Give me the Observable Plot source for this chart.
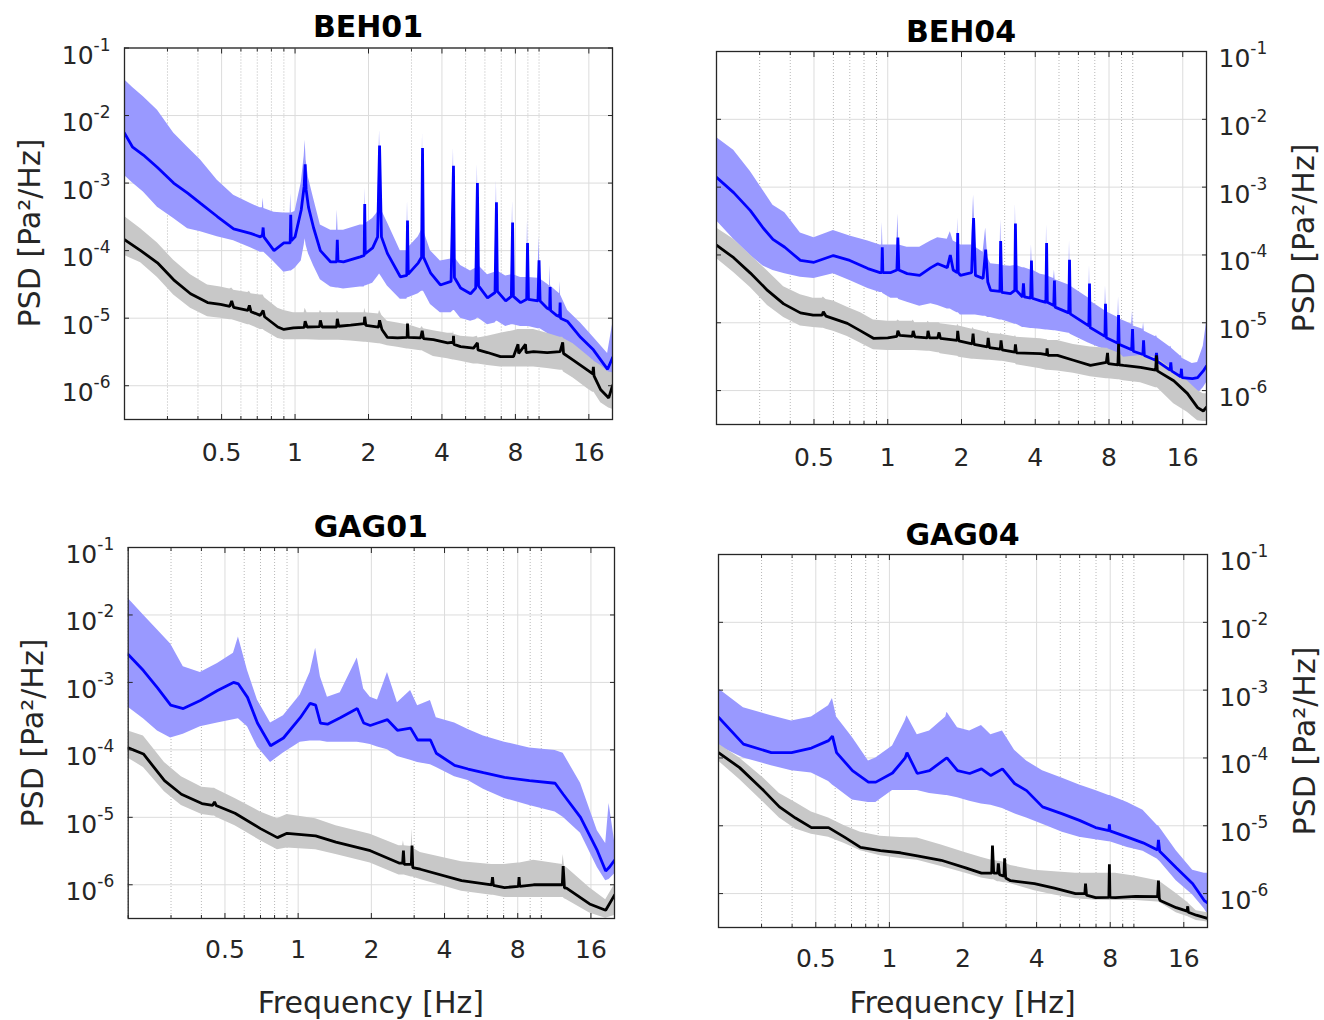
<!DOCTYPE html>
<html><head><meta charset="utf-8">
<script src="https://cdn.jsdelivr.net/npm/d3@7"></script>
<script src="https://cdn.jsdelivr.net/npm/@observablehq/plot@0.6"></script>
<style>
html,body{margin:0;padding:0;background:#fff;}
#root{position:relative;width:1324px;height:1020px;overflow:hidden;background:#fff;}
#root > svg.plot{position:absolute;}
#overlay{position:absolute;left:0;top:0;pointer-events:none;}
</style></head>
<body><div id="root"></div>
<script>
// ---- Data: each row is [frequency Hz, lower band, median, upper band] in Pa²/Hz ----
const beh01Blue = [
[0.2,1.3e-3,5.5e-3,3.4e-2],[0.216,1.0e-3,3.4e-3,2.6e-2],[0.239,7.4e-4,2.6e-3,1.9e-2],[0.273,4.4e-4,1.7e-3,1.2e-2],
[0.318,3.0e-4,1.0e-3,5.5e-3],[0.363,2.1e-4,7.1e-4,3.4e-3],[0.41,1.9e-4,5.0e-4,2.2e-3],[0.48,1.6e-4,3.2e-4,1.1e-3],
[0.56,1.4e-4,2.1e-4,6.6e-4],[0.657,1.1e-4,1.8e-4,5.0e-4],[0.72,9.5e-5,1.6e-4,4.3e-4],[0.735,9.5e-5,1.7e-4,4.3e-4],
[0.74,9.5e-5,2.2e-4,6e-4],[0.745,9.5e-5,1.6e-4,4.2e-4],[0.82,6.8e-5,1.0e-4,3.7e-4],[0.9,4.8e-5,1.3e-4,3.6e-4],
[0.955,5e-5,1.3e-4,3.6e-4],[0.96,5e-5,3.4e-4,7e-4],[0.965,5e-5,1.4e-4,3.6e-4],[1.0,5.5e-5,1.6e-4,3.8e-4],
[1.06,7e-5,4.0e-4,1e-3],[1.09,1.2e-4,9e-4,2.5e-3],[1.1,1.5e-4,1.9e-3,4.3e-3],[1.11,1.2e-4,8e-4,2.2e-3],
[1.135,9e-5,4.4e-4,1.2e-3],[1.19,6e-5,2.2e-4,6e-4],[1.27,3.7e-5,1.0e-4,2.4e-4],[1.4,2.9e-5,6.8e-5,2.0e-4],
[1.48,2.8e-5,6.8e-5,2e-4],[1.49,2.8e-5,1.45e-4,4e-4],[1.5,2.8e-5,7e-5,2e-4],[1.58,2.7e-5,6.8e-5,2.0e-4],
[1.85,2.9e-5,8.1e-5,2.4e-4],[1.92,2.9e-5,8.5e-5,2.4e-4],[1.93,3e-5,4.9e-4,8.5e-4],[1.94,3e-5,9e-5,2.5e-4],
[2.08,3.3e-5,1.1e-4,3.0e-4],[2.18,4.1e-5,1.6e-4,3.7e-4],[2.22,4.5e-5,3.6e-3,6e-3],[2.26,4.1e-5,1.6e-4,4e-4],
[2.39,3.0e-5,9.1e-5,2.6e-4],[2.7,1.9e-5,4.1e-5,1.0e-4],[2.87,1.9e-5,4.3e-5,1.0e-4],[2.89,2e-5,2.8e-4,5.5e-4],
[2.91,2e-5,4.5e-5,1.1e-4],[3.2,2.3e-5,6.6e-5,1.6e-4],[3.3,2.5e-5,8e-5,2e-4],[3.33,2.5e-5,3.3e-3,5.6e-3],
[3.36,2.5e-5,8e-5,2e-4],[3.59,1.6e-5,4.7e-5,1.0e-4],[3.94,1.2e-5,3.1e-5,7.0e-5],[4.36,1.2e-5,3.5e-5,7.5e-5],
[4.46,1.3e-5,1.8e-3,3.3e-3],[4.5,1.3e-5,4e-5,8e-5],[4.77,1.0e-5,2.8e-5,6.0e-5],[5.24,9e-6,2.3e-5,5.0e-5],
[5.5,9.5e-6,2.8e-5,5.5e-5],[5.59,1e-5,1.0e-3,1.9e-3],[5.65,1e-5,3e-5,6e-5],[6.15,8e-6,2.0e-5,4.4e-5],
[6.6,8.5e-6,2.4e-5,4.8e-5],[6.69,9e-6,5.2e-4,1.1e-3],[6.75,9e-6,2.5e-5,5e-5],[7.3,7.5e-6,1.8e-5,4.2e-5],
[7.7,8e-6,2.1e-5,4.4e-5],[7.79,8e-6,2.6e-4,5.5e-4],[7.85,8e-6,2.1e-5,4.4e-5],[8.4,7.5e-6,1.7e-5,4.0e-5],
[8.9,7.5e-6,1.9e-5,4.0e-5],[8.97,7.5e-6,1.3e-4,3e-4],[9.05,7.5e-6,1.9e-5,4e-5],[9.9,7e-6,1.8e-5,3.9e-5],
[10.0,7e-6,7.2e-5,1.6e-4],[10.1,7e-6,1.8e-5,3.8e-5],[10.8,6e-6,1.4e-5,3.2e-5],[11.05,5.5e-6,1.35e-5,3.0e-5],
[11.1,5.5e-6,2.9e-5,6e-5],[11.15,5.5e-6,1.3e-5,3e-5],[11.8,4.8e-6,1.1e-5,2.5e-5],[12.15,4.5e-6,1.05e-5,2.3e-5],
[12.2,4.5e-6,1.7e-5,3.5e-5],[12.25,4.5e-6,1.0e-5,2.2e-5],[13.1,4.5e-6,8.9e-6,1.3e-5],[14.8,3.1e-6,5.2e-6,8.5e-6],
[16.7,2.0e-6,3.4e-6,5.2e-6],[19.1,1.3e-6,1.75e-6,3.0e-6],[20,1.5e-6,2.6e-6,8e-6]
];
const beh01Black = [
[0.2,8.5e-5,1.45e-4,3.2e-4],[0.233,6.6e-5,1.0e-4,2.1e-4],[0.273,4.0e-5,6.6e-5,1.3e-4],[0.318,2.2e-5,3.7e-5,7.2e-5],
[0.373,1.4e-5,2.3e-5,4.4e-5],[0.438,1.05e-5,1.7e-5,3.1e-5],[0.495,1.0e-5,1.6e-5,2.9e-5],[0.54,9.5e-6,1.5e-5,2.7e-5],
[0.55,9.5e-6,1.8e-5,2.8e-5],[0.56,9.3e-6,1.45e-5,2.6e-5],[0.64,8e-6,1.3e-5,2.4e-5],[0.65,8e-6,1.55e-5,2.5e-5],
[0.66,7.8e-6,1.25e-5,2.3e-5],[0.72,6.8e-6,1.1e-5,2.2e-5],[0.74,6.8e-6,1.3e-5,2.2e-5],[0.75,6.5e-6,1.05e-5,2e-5],
[0.85,5e-6,7.4e-6,1.4e-5],[0.9,4.8e-6,6.8e-6,1.3e-5],[0.985,4.8e-6,7.2e-6,1.2e-5],[1.09,4.8e-6,7.3e-6,1.2e-5],
[1.1,4.8e-6,9e-6,1.4e-5],[1.12,4.8e-6,7.4e-6,1.2e-5],[1.26,4.7e-6,7.5e-6,1.2e-5],[1.27,4.7e-6,9.3e-6,1.3e-5],
[1.29,4.7e-6,7.4e-6,1.2e-5],[1.48,4.7e-6,7.4e-6,1.2e-5],[1.49,4.7e-6,9.8e-6,1.3e-5],[1.51,4.7e-6,7.6e-6,1.2e-5],
[1.69,4.6e-6,7.9e-6,1.2e-5],[1.92,4.4e-6,8.3e-6,1.2e-5],[1.93,4.4e-6,1.05e-5,1.4e-5],[1.95,4.4e-6,7.8e-6,1.2e-5],
[2.2,4.2e-6,7.4e-6,1.15e-5],[2.22,4.2e-6,9.3e-6,1.3e-5],[2.27,4.1e-6,6.8e-6,1.1e-5],[2.39,3.9e-6,5.2e-6,9e-6],
[2.63,3.7e-6,5.1e-6,8.5e-6],[2.88,3.5e-6,5.2e-6,8e-6],[2.89,3.5e-6,8.3e-6,9e-6],[2.91,3.5e-6,5.2e-6,8e-6],
[3.27,3.3e-6,5.1e-6,7e-6],[3.32,3.3e-6,6.5e-6,7.5e-6],[3.36,3.2e-6,5.0e-6,7e-6],[3.69,2.7e-6,4.8e-6,6.5e-6],
[4.22,2.5e-6,4.3e-6,6e-6],[4.45,2.4e-6,4.4e-6,6e-6],[4.46,2.4e-6,5.5e-6,6.5e-6],[4.48,2.4e-6,4.1e-6,5.8e-6],
[4.77,2.3e-6,3.8e-6,5.4e-6],[5.39,2.1e-6,3.6e-6,5.2e-6],[5.59,2.1e-6,4.3e-6,5.4e-6],[5.62,2.1e-6,3.4e-6,5.1e-6],
[6.15,2.0e-6,3.1e-6,5.4e-6],[6.95,1.9e-6,2.7e-6,6e-6],[7.86,1.9e-6,2.7e-6,6.5e-6],[8.2,1.9e-6,4.1e-6,6.8e-6],
[8.25,1.9e-6,3.0e-6,6.8e-6],[8.8,1.9e-6,4.1e-6,6.8e-6],[8.85,1.9e-6,3.1e-6,6.8e-6],[9.49,1.9e-6,3.2e-6,6.8e-6],
[10.8,1.8e-6,3.1e-6,6e-6],[12.2,1.7e-6,3.2e-6,5.2e-6],[12.5,1.7e-6,4.4e-6,5.2e-6],[12.6,1.6e-6,3.0e-6,5e-6],
[13.8,1.3e-6,2.4e-6,4.2e-6],[15.8,9e-7,1.7e-6,2.8e-6],[16.6,8e-7,1.5e-6,2.4e-6],[16.7,8e-7,1.9e-6,2.4e-6],
[16.8,8e-7,1.4e-6,2.3e-6],[17.9,5.6e-7,8.7e-7,2.0e-6],[19.3,4.7e-7,6.6e-7,1.6e-6],[20,4.5e-7,1.0e-6,1.55e-6]
];
const beh04Blue = [
[0.2,3.2e-4,1.4e-3,5.4e-3],[0.235,1.7e-4,8.3e-4,3.5e-3],[0.275,9.8e-5,4.5e-4,1.7e-3],[0.31,6.9e-5,2.5e-4,8.9e-4],
[0.34,5.9e-5,1.7e-4,5.4e-4],[0.38,5.3e-5,1.3e-4,4.2e-4],[0.44,4.7e-5,8.3e-5,2.1e-4],[0.5,4.5e-5,7.8e-5,1.8e-4],
[0.6,5.3e-5,9.8e-5,2.3e-4],[0.7,4.2e-5,8.3e-5,1.9e-4],[0.83,3.2e-5,6.3e-5,1.6e-4],[0.93,2.8e-5,5.5e-5,1.4e-4],
[0.945,2.8e-5,5.5e-5,1.4e-4],[0.95,2.8e-5,1.3e-4,3.0e-4],[0.955,2.7e-5,5.5e-5,1.4e-4],[1.03,2.3e-5,5.5e-5,1.4e-4],
[1.09,2.3e-5,6.0e-5,1.4e-4],[1.1,2.3e-5,1.8e-4,4.0e-4],[1.11,2.2e-5,6.0e-5,1.4e-4],[1.2,2.0e-5,5.3e-5,1.3e-4],
[1.35,1.75e-5,5.0e-5,1.3e-4],[1.5,1.9e-5,6.5e-5,1.6e-4],[1.6,1.8e-5,7.4e-5,1.8e-4],[1.75,1.6e-5,6.5e-5,1.7e-4],
[1.8,1.6e-5,1.0e-4,2.2e-4],[1.85,1.5e-5,6.0e-5,1.6e-4],[1.92,1.4e-5,5.5e-5,1.5e-4],[1.93,1.4e-5,2.1e-4,3.5e-4],
[1.94,1.4e-5,5.5e-5,1.5e-4],[1.98,1.3e-5,5.0e-5,1.4e-4],[2.2,1.3e-5,5.5e-5,1.4e-4],[2.24,1.3e-5,3.5e-4,7.6e-4],
[2.28,1.3e-5,5.0e-5,1.3e-4],[2.45,1.25e-5,4.5e-5,1.1e-4],[2.51,1.25e-5,1.2e-4,2.5e-4],[2.56,1.2e-5,4.0e-5,9e-5],
[2.63,1.2e-5,3.0e-5,7.4e-5],[2.87,1.1e-5,2.9e-5,7.2e-5],[2.89,1.1e-5,1.6e-4,3.3e-4],[2.92,1.1e-5,2.8e-5,7e-5],
[3.17,1.0e-5,2.7e-5,6.8e-5],[3.3,9.5e-6,3.0e-5,7e-5],[3.32,9.5e-6,2.9e-4,5.7e-4],[3.35,9.5e-6,3.0e-5,7e-5],
[3.55,8.5e-6,2.4e-5,6.5e-5],[3.58,8.5e-6,3.8e-5,6.5e-5],[3.61,8.5e-6,2.4e-5,6.5e-5],[3.83,8.2e-6,2.3e-5,6e-5],
[3.86,8.2e-6,8.3e-5,1.4e-4],[3.89,8.2e-6,2.3e-5,6e-5],[4.2,8e-6,2.1e-5,5.2e-5],[4.42,7.8e-6,2.0e-5,5e-5],
[4.45,7.8e-6,1.5e-4,2.8e-4],[4.48,7.8e-6,2.0e-5,4.9e-5],[4.76,7.6e-6,1.8e-5,4.5e-5],[4.79,7.6e-6,4.2e-5,6e-5],
[4.82,7.6e-6,1.7e-5,4.3e-5],[5.48,7e-6,1.4e-5,3.6e-5],[5.52,7e-6,8.5e-5,1.6e-4],[5.56,6.8e-6,1.35e-5,3.5e-5],
[6.62,5e-6,9e-6,2.3e-5],[6.66,5e-6,3.8e-5,7e-5],[6.7,4.9e-6,8.5e-6,2.1e-5],[7.7,4e-6,6.3e-6,1.5e-5],
[7.74,4e-6,1.9e-5,3.5e-5],[7.8,3.9e-6,6.0e-6,1.45e-5],[8.7,3.3e-6,5.0e-6,1.2e-5],[8.75,3.3e-6,1.3e-5,2.4e-5],
[8.8,3.2e-6,4.8e-6,1.15e-5],[9.9,2.8e-6,4.0e-6,9.5e-6],[9.98,2.8e-6,8.1e-6,1.5e-5],[10.05,2.7e-6,3.8e-6,9e-6],
[11.0,2.4e-6,3.4e-6,8e-6],[11.07,2.4e-6,5.5e-6,1e-5],[11.15,2.3e-6,3.3e-6,7.5e-6],[12.4,2.1e-6,2.8e-6,6.2e-6],
[12.5,2.1e-6,3.6e-6,6.5e-6],[12.6,2.0e-6,2.7e-6,6.0e-6],[14.2,1.4e-6,2.0e-6,4.4e-6],[14.3,1.4e-6,2.6e-6,4.5e-6],
[14.4,1.35e-6,1.95e-6,4.2e-6],[15.7,1.1e-6,1.6e-6,3.2e-6],[15.8,1.1e-6,2.1e-6,3.3e-6],[15.9,1.05e-6,1.55e-6,3.0e-6],
[17.5,9e-7,1.5e-6,2.5e-6],[18.4,9e-7,1.55e-6,2.6e-6],[19.4,1.1e-6,1.95e-6,4.5e-6],[20,1.3e-6,2.3e-6,1.0e-5]
];
const beh04Black = [
[0.2,8.9e-5,1.4e-4,2.5e-4],[0.235,5.5e-5,9.1e-5,1.7e-4],[0.275,3.3e-5,5.4e-5,1.0e-4],[0.323,1.8e-5,3.0e-5,5.8e-5],
[0.376,1.2e-5,1.9e-5,3.4e-5],[0.44,9e-6,1.4e-5,2.6e-5],[0.496,8.5e-6,1.3e-5,2.3e-5],[0.54,8.3e-6,1.3e-5,2.3e-5],
[0.546,8.3e-6,1.45e-5,2.4e-5],[0.56,8e-6,1.25e-5,2.2e-5],[0.6,7.5e-6,1.15e-5,2.1e-5],[0.684,6.3e-6,9.8e-6,1.7e-5],
[0.775,5.0e-6,7.6e-6,1.4e-5],[0.874,4.0e-6,5.9e-6,1.1e-5],[1.0,3.9e-6,6.0e-6,1.05e-5],[1.09,3.9e-6,6.3e-6,1.05e-5],
[1.1,3.9e-6,7.6e-6,1.1e-5],[1.12,3.9e-6,6.5e-6,1.05e-5],[1.26,3.9e-6,6.3e-6,1.05e-5],[1.27,3.9e-6,7.6e-6,1.1e-5],
[1.29,3.9e-6,6.2e-6,1.0e-5],[1.45,3.8e-6,6.0e-6,1.0e-5],[1.46,3.8e-6,7.6e-6,1.05e-5],[1.48,3.8e-6,6.0e-6,1.0e-5],
[1.6,3.6e-6,6.0e-6,1.0e-5],[1.62,3.6e-6,7.2e-6,1.0e-5],[1.64,3.5e-6,5.9e-6,9.7e-6],[1.92,3.2e-6,5.5e-6,9e-6],
[1.93,3.2e-6,7.6e-6,9.5e-6],[1.95,3.1e-6,5.4e-6,9e-6],[2.21,2.9e-6,4.9e-6,8e-6],[2.23,2.9e-6,6.9e-6,8.5e-6],
[2.25,2.9e-6,4.8e-6,8e-6],[2.55,2.8e-6,4.4e-6,7.2e-6],[2.57,2.8e-6,6.0e-6,7.5e-6],[2.6,2.8e-6,4.3e-6,7e-6],
[2.88,2.7e-6,4.1e-6,6.8e-6],[2.9,2.7e-6,5.5e-6,7e-6],[2.93,2.7e-6,4.0e-6,6.7e-6],[3.3,2.5e-6,3.7e-6,6.2e-6],
[3.32,2.5e-6,4.8e-6,6.5e-6],[3.35,2.4e-6,3.6e-6,6.1e-6],[4.2,2.1e-6,3.5e-6,5.8e-6],[4.45,2.0e-6,3.4e-6,5.6e-6],
[4.47,2.0e-6,4.2e-6,5.6e-6],[4.5,2.0e-6,3.3e-6,5.5e-6],[4.93,1.95e-6,3.3e-6,5.5e-6],[5.73,1.8e-6,2.8e-6,4.8e-6],
[6.72,1.6e-6,2.35e-6,4.4e-6],[7.8,1.5e-6,2.6e-6,4.2e-6],[7.89,1.5e-6,3.6e-6,4.2e-6],[7.95,1.5e-6,2.5e-6,4.1e-6],
[8.7,1.45e-6,2.4e-6,3.6e-6],[8.75,1.45e-6,4.9e-6,5.5e-6],[8.8,1.45e-6,2.4e-6,3.6e-6],[9.17,1.4e-6,2.35e-6,3.1e-6],
[10.76,1.3e-6,2.2e-6,3.3e-6],[12.4,1.1e-6,2.0e-6,3.1e-6],[12.5,1.1e-6,3.3e-6,3.6e-6],[12.6,1.1e-6,1.95e-6,3.0e-6],
[14.7,6.4e-7,1.4e-6,2.0e-6],[16.7,4.8e-7,9.1e-7,1.4e-6],[18.4,3.6e-7,5.6e-7,1.0e-6],[19.4,3.5e-7,5.0e-7,9e-7],
[20,3.5e-7,5.7e-7,9e-7]
];
const gag01Blue = [
[0.2,4.3e-4,2.6e-3,1.75e-2],[0.231,2.9e-4,1.5e-3,1.0e-2],[0.264,1.9e-4,8.3e-4,6.0e-3],[0.299,1.5e-4,4.6e-4,3.7e-3],
[0.337,1.7e-4,4.1e-4,1.7e-3],[0.396,2.2e-4,5.4e-4,1.4e-3],[0.466,2.5e-4,7.6e-4,1.9e-3],[0.542,2.8e-4,1.0e-3,2.7e-3],
[0.568,2.9e-4,9.5e-4,4.7e-3],[0.619,2.2e-4,6.0e-4,1.5e-3],[0.68,1.1e-4,2.5e-4,5.5e-4],[0.77,6.5e-5,1.15e-4,2.5e-4],
[0.87,9e-5,1.5e-4,3.2e-4],[1.02,1.3e-4,3.0e-4,6.5e-4],[1.12,1.35e-4,4.9e-4,1.4e-3],[1.18,1.35e-4,4.6e-4,3.2e-3],
[1.235,1.35e-4,2.5e-4,1.2e-3],[1.32,1.3e-4,2.4e-4,6e-4],[1.49,1.3e-4,3.0e-4,7e-4],[1.75,1.3e-4,4.1e-4,2.3e-3],
[1.86,1.25e-4,2.5e-4,8e-4],[1.98,1.2e-4,2.3e-4,6e-4],[2.12,1.1e-4,2.5e-4,5.5e-4],[2.33,1.0e-4,2.8e-4,1.4e-3],
[2.56,8e-5,1.95e-4,5e-4],[2.9,7e-5,2.1e-4,7.6e-4],[3.1,6.5e-5,1.4e-4,4.5e-4],[3.5,6e-5,1.4e-4,5.4e-4],
[3.7,5.5e-5,8.9e-5,3e-4],[4.4,4.0e-5,5.9e-5,2.5e-4],[5.0,3.5e-5,5.2e-5,2.0e-4],[5.78,2.6e-5,4.6e-5,1.6e-4],
[7.06,1.9e-5,3.9e-5,1.3e-4],[8.94,1.5e-5,3.5e-5,1.07e-4],[11.4,1.2e-5,3.2e-5,9.8e-5],[12.3,1.0e-5,2.2e-5,8.9e-5],
[14.5,5.8e-6,1.0e-5,3.2e-5],[17.0,1.8e-6,3.2e-6,6.3e-6],[18.4,1.15e-6,1.6e-6,4.1e-6],[19.0,1.2e-6,1.8e-6,1.6e-5],
[20,1.45e-6,2.3e-6,4.5e-6]
];
const gag01Black = [
[0.2,7.5e-5,1.07e-4,1.9e-4],[0.231,5.5e-5,8.7e-5,1.6e-4],[0.282,2.4e-5,3.5e-5,6.5e-5],[0.331,1.5e-5,2.2e-5,4.0e-5],
[0.402,1.1e-5,1.6e-5,2.8e-5],[0.445,1.05e-5,1.5e-5,2.7e-5],[0.453,1.05e-5,1.7e-5,2.7e-5],[0.46,1.0e-5,1.5e-5,2.6e-5],
[0.55,7.5e-6,1.15e-5,1.9e-5],[0.7,4.5e-6,6.8e-6,1.2e-5],[0.822,3.3e-6,5.0e-6,9.5e-6],[0.9,3.5e-6,5.8e-6,1.1e-5],
[1.18,3.3e-6,5.3e-6,9.5e-6],[1.43,2.8e-6,4.3e-6,7.5e-6],[1.98,2.1e-6,3.2e-6,5.6e-6],[2.6,1.4e-6,2.1e-6,3.8e-6],
[2.69,1.4e-6,2.1e-6,3.8e-6],[2.71,1.4e-6,3.2e-6,4.5e-6],[2.73,1.4e-6,2.0e-6,3.8e-6],[2.92,1.3e-6,2.0e-6,3.7e-6],
[2.94,1.3e-6,3.8e-6,6.8e-6],[2.96,1.3e-6,1.8e-6,3.5e-6],[3.18,1.2e-6,1.7e-6,3.0e-6],[4.7,8e-7,1.15e-6,2.2e-6],
[6.25,7e-7,1.0e-6,2.0e-6],[6.3,7e-7,1.3e-6,2.0e-6],[6.35,7e-7,9.8e-7,2.0e-6],[7.06,6.5e-7,9.1e-7,2.0e-6],
[8.05,6.5e-7,9.5e-7,2.1e-6],[8.1,6.5e-7,1.3e-6,2.1e-6],[8.15,6.5e-7,9.5e-7,2.1e-6],[9.3,6.5e-7,1.0e-6,2.3e-6],
[12.2,6.5e-7,1.0e-6,2.0e-6],[12.3,6.5e-7,1.9e-6,2.8e-6],[12.45,6.2e-7,9e-7,1.9e-6],[12.7,6e-7,8.9e-7,1.8e-6],
[15.8,3.8e-7,5.2e-7,9e-7],[18.4,3.2e-7,4.2e-7,6e-7],[20,3.5e-7,7e-7,1e-6]
];
const gag04Blue = [
[0.2,1.5e-4,4.0e-4,1.05e-3],[0.253,1.0e-4,1.6e-4,5.5e-4],[0.329,7.7e-5,1.2e-4,4.2e-4],[0.398,6.5e-5,1.2e-4,3.5e-4],
[0.48,6.0e-5,1.4e-4,4e-4],[0.564,4.5e-5,1.8e-4,5.9e-4],[0.585,4.0e-5,2.1e-4,7.5e-4],[0.608,3.6e-5,1.2e-4,4e-4],
[0.706,2.4e-5,6.5e-5,2.0e-4],[0.821,2.2e-5,4.4e-5,9e-5],[0.88,2.2e-5,4.4e-5,1.0e-4],[1.03,3.3e-5,6.0e-5,1.5e-4],
[1.16,3.3e-5,1.0e-4,3.5e-4],[1.18,3.3e-5,1.2e-4,4.2e-4],[1.3,3.3e-5,5.9e-5,2.2e-4],[1.46,3.0e-5,6.5e-5,2.5e-4],
[1.7,2.8e-5,9.8e-5,4.0e-4],[1.72,2.8e-5,1.0e-4,4.7e-4],[1.9,2.6e-5,6.5e-5,2.8e-4],[2.13,2.3e-5,5.9e-5,2.5e-4],
[2.38,2.1e-5,6.9e-5,3.0e-4],[2.6,2.0e-5,5.5e-5,2.2e-4],[2.9,1.8e-5,6.9e-5,2.5e-4],[3.25,1.5e-5,4.2e-5,1.3e-4],
[3.64,1.3e-5,3.3e-5,9e-5],[4.23,1.05e-5,1.9e-5,6.5e-5],[5.1,8e-6,1.5e-5,5e-5],[5.99,6.8e-6,1.2e-5,4.0e-5],
[6.97,6.2e-6,9.4e-6,3.3e-5],[7.9,5.8e-6,8.5e-6,2.8e-5],[7.94,5.8e-6,1.05e-5,2.8e-5],[7.98,5.8e-6,8.4e-6,2.8e-5],
[9.41,4.8e-6,6.8e-6,2.2e-5],[10.9,4.2e-6,5.6e-6,1.7e-5],[12.5,3.2e-6,4.4e-6,1.0e-5],[12.6,3.1e-6,6.2e-6,1.0e-5],
[12.75,3.0e-6,4.2e-6,9.4e-6],[14.9,1.55e-6,2.4e-6,4.3e-6],[17.4,9.5e-7,1.4e-6,2.2e-6],[19.4,6e-7,7.9e-7,2.0e-6],
[20,5e-7,7.3e-7,2.0e-6]
];
const gag04Black = [
[0.2,9e-5,1.2e-4,1.6e-4],[0.244,4.8e-5,7.2e-5,1.0e-4],[0.306,2.2e-5,3.3e-5,5.0e-5],[0.355,1.3e-5,1.9e-5,3.0e-5],
[0.413,9e-6,1.3e-5,2.2e-5],[0.48,7.5e-6,9.4e-6,1.6e-5],[0.564,6.8e-6,9.4e-6,1.3e-5],[0.655,5.5e-6,6.8e-6,1.0e-5],
[0.762,4.3e-6,4.8e-6,8e-6],[0.919,3.6e-6,4.3e-6,7e-6],[1.11,3.3e-6,4.0e-6,6.7e-6],[1.30,3.1e-6,3.6e-6,6.6e-6],
[1.63,2.5e-6,3.1e-6,5.2e-6],[2.05,2.0e-6,2.4e-6,4e-6],[2.38,1.7e-6,2.0e-6,3.4e-6],[2.62,1.6e-6,2.0e-6,3.1e-6],
[2.64,1.6e-6,5.1e-6,3.1e-6],[2.67,1.6e-6,2.0e-6,3.1e-6],[2.77,1.5e-6,2.0e-6,3.0e-6],[2.79,1.5e-6,2.8e-6,3.0e-6],
[2.82,1.5e-6,1.9e-6,3.0e-6],[2.94,1.45e-6,1.8e-6,2.9e-6],[2.96,1.45e-6,3.3e-6,2.9e-6],[2.99,1.45e-6,1.7e-6,2.8e-6],
[3.13,1.4e-6,1.55e-6,2.6e-6],[3.92,1.1e-6,1.4e-6,2.2e-6],[4.73,9.5e-7,1.2e-6,2.1e-6],[5.77,8.4e-7,1.0e-6,2.0e-6],
[6.3,8.2e-7,1.0e-6,2.0e-6],[6.34,8.2e-7,1.4e-6,2.0e-6],[6.4,8.2e-7,9.5e-7,2.0e-6],[6.97,8e-7,8.7e-7,2.0e-6],
[7.9,7.9e-7,8.8e-7,2.0e-6],[7.94,7.9e-7,2.7e-6,2.0e-6],[7.98,7.9e-7,8.8e-7,2.0e-6],[8.41,7.9e-7,8.7e-7,2.0e-6],
[10.15,7.9e-7,9.1e-7,1.8e-6],[12.5,7.5e-7,9e-7,1.55e-6],[12.6,7.5e-7,1.55e-6,1.55e-6],[12.7,7.4e-7,8.5e-7,1.5e-6],
[12.8,7.3e-7,7.9e-7,1.5e-6],[14.9,5.2e-7,6.2e-7,1.0e-6],[16.5,4.6e-7,5.5e-7,7.5e-7],[16.6,4.6e-7,6.5e-7,7.5e-7],
[16.7,4.5e-7,5.3e-7,7.2e-7],[18.0,4e-7,4.8e-7,5.6e-7],[20,3.8e-7,4.3e-7,5.2e-7]
];

const stationNames = ["BEH01", "BEH04", "GAG01", "GAG04"];
const xMajorTicks = [0.5, 1, 2, 4, 8, 16];
const xTickLabels = ["0.5", "1", "2", "4", "8", "16"];
const xMinorTicks = [0.2, 0.3, 0.4, 0.6, 0.7, 0.8, 0.9, 3, 5, 6, 7, 9, 10, 20];
const yDecadeTicks = [1e-6, 1e-5, 1e-4, 1e-3, 1e-2, 1e-1];
const xDomain = [0.2, 20];
const yDomain = [Math.pow(10, -6.5), 1e-1];
const yLabel = "PSD [Pa²/Hz]";
const xLabel = "Frequency [Hz]";

// ---- layout (pixel frames of each panel) ----
const panels = [
  {name: stationNames[0], blue: beh01Blue, black: beh01Black, qx: 0,   qy: 0,   qw: 662, qh: 500, left: 124,   top: 47.5, right: 612,  bottom: 419, side: "left",  xlab: 24},
  {name: stationNames[1], blue: beh04Blue, black: beh04Black, qx: 662, qy: 0,   qw: 662, qh: 500, left: 716,   top: 51,   right: 1206, bottom: 424, side: "right", xlab: 24},
  {name: stationNames[2], blue: gag01Blue, black: gag01Black, qx: 0,   qy: 500, qw: 662, qh: 520, left: 127.7, top: 547,  right: 614,  bottom: 918, side: "left",  xlab: 22},
  {name: stationNames[3], blue: gag04Blue, black: gag04Black, qx: 662, qy: 500, qw: 662, qh: 520, left: 718,   top: 554,  right: 1207, bottom: 927, side: "right", xlab: 22}
];

const root = document.getElementById("root");
const SVGNS = "http://www.w3.org/2000/svg";
const xLabelRows = xMajorTicks.map((v, i) => ({v, label: xTickLabels[i]}));

for (const p of panels) {
  const other = p.side === "left" ? "right" : "left";
  const svg = Plot.plot({
    width: p.qw, height: p.qh,
    marginLeft: p.left - p.qx, marginTop: p.top - p.qy,
    marginRight: p.qx + p.qw - p.right, marginBottom: p.qy + p.qh - p.bottom,
    style: {fontFamily: "'DejaVu Sans', sans-serif", fontSize: "25px", color: "#262626", background: "transparent", overflow: "visible"},
    x: {type: "log", domain: xDomain},
    y: {type: "log", domain: yDomain},
    marks: [
      Plot.gridY(yDecadeTicks, {stroke: "#dcdcdc", strokeOpacity: 1, strokeWidth: 1}),
      Plot.gridX(xMinorTicks, {stroke: "#b8b8b8", strokeOpacity: 1, strokeWidth: 1, strokeDasharray: "1,2"}),
      Plot.gridX(xMajorTicks, {stroke: "#dcdcdc", strokeOpacity: 1, strokeWidth: 1}),
      Plot.areaY(p.blue, {x: d => d[0], y1: d => d[1], y2: d => d[3], fill: "#9999ff", clip: true}),
      Plot.areaY(p.black, {x: d => d[0], y1: d => d[1], y2: d => d[3], fill: "#c8c8c8", clip: true}),
      Plot.lineY(p.blue, {x: d => d[0], y: d => d[2], stroke: "#0000ff", strokeWidth: 2.8, strokeLinejoin: "miter", clip: true}),
      Plot.lineY(p.black, {x: d => d[0], y: d => d[2], stroke: "#000000", strokeWidth: 2.8, strokeLinejoin: "miter", clip: true}),
      Plot.frame({stroke: "#262626", strokeWidth: 1.3}),
      Plot.axisX(xMajorTicks, {anchor: "bottom", tickSize: -5, tickFormat: () => "", label: null, stroke: "#262626"}),
      Plot.axisX(xMinorTicks, {anchor: "bottom", tickSize: -3, tickFormat: () => "", label: null, stroke: "#262626"}),
      Plot.axisX(xMajorTicks, {anchor: "top", tickSize: -5, tickFormat: () => "", label: null, stroke: "#262626"}),
      Plot.axisX(xMinorTicks, {anchor: "top", tickSize: -3, tickFormat: () => "", label: null, stroke: "#262626"}),
      Plot.text(xLabelRows, {x: "v", text: "label", frameAnchor: "bottom", lineAnchor: "top", dy: p.xlab, fill: "#262626", fontSize: 25}),
      Plot.axisY(yDecadeTicks, {anchor: p.side, tickSize: -5, tickPadding: p.side === "left" ? 19 : 17,
        tickFormat: d => `10^${Math.round(Math.log10(d))}`, label: null, stroke: "#262626"}),
      Plot.axisY(yDecadeTicks, {anchor: other, tickSize: -5, tickFormat: () => "", label: null, stroke: "#262626"})
    ]
  });
  svg.classList.add("plot");
  svg.style.left = p.qx + "px";
  svg.style.top = p.qy + "px";
  // superscript exponents on the decade tick labels
  svg.querySelectorAll('g[aria-label="y-axis tick label"] text').forEach(t => {
    const s = t.textContent;
    if (!s.includes("^")) return;
    const [base, exp] = s.split("^");
    t.textContent = "";
    const t1 = document.createElementNS(SVGNS, "tspan");
    t1.textContent = base; t1.setAttribute("dy", "7.5");
    const t2 = document.createElementNS(SVGNS, "tspan");
    t2.textContent = exp; t2.setAttribute("dy", "-13"); t2.setAttribute("font-size", "17");
    t.append(t1, t2);
  });
  root.appendChild(svg);
}

// ---- titles and axis labels ----
const ov = document.createElementNS(SVGNS, "svg");
ov.setAttribute("id", "overlay");
ov.setAttribute("width", 1324); ov.setAttribute("height", 1020);
ov.setAttribute("font-family", "'DejaVu Sans', sans-serif");
function addText(str, x, y, opts = {}) {
  const t = document.createElementNS(SVGNS, "text");
  t.textContent = str;
  t.setAttribute("text-anchor", "middle");
  if (opts.rotate) t.setAttribute("transform", `translate(${x},${y}) rotate(-90)`);
  else { t.setAttribute("x", x); t.setAttribute("y", y); }
  t.setAttribute("font-size", opts.size || 30);
  if (opts.bold) t.setAttribute("font-weight", "bold");
  t.setAttribute("fill", opts.fill || "#262626");
  ov.appendChild(t);
}
const titleY = [37, 42, 537, 545];
panels.forEach((p, i) => {
  addText(p.name, (p.left + p.right) / 2, titleY[i], {bold: true, fill: "#000", size: 30});
});
const yLabelPos = [[39.5, 233], [1314, 238], [43, 733], [1315, 741]];
yLabelPos.forEach(([x, y]) => addText(yLabel, x, y, {rotate: true}));
addText(xLabel, (panels[2].left + panels[2].right) / 2, 1013);
addText(xLabel, (panels[3].left + panels[3].right) / 2, 1013);
root.appendChild(ov);
</script>
</body></html>
